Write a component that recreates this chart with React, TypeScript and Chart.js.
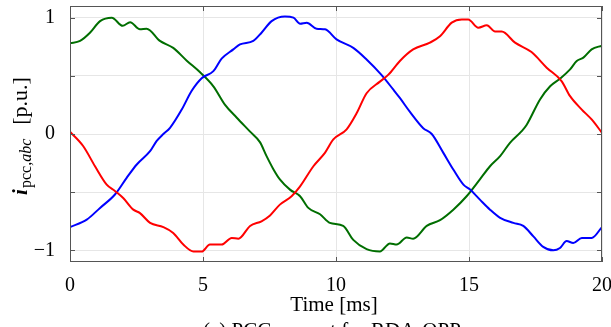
import React, { useEffect, useRef } from 'react';
import { Chart, registerables } from 'chart.js';

Chart.register(...registerables);

// Time axis in ms, currents in p.u.
const redT = [0, 0.5, 0.94, 1.38, 1.69, 2.0, 2.38, 2.63, 3.01, 3.51, 3.88, 4.26, 4.64, 4.95, 5.26, 5.7, 6.08, 6.33, 6.77, 7.2, 7.52, 7.89, 8.33, 8.65, 9.15, 9.59, 9.9, 10.4, 10.78, 11.15, 11.65, 11.97, 12.41, 12.9, 13.53, 13.91, 14.35, 14.73, 14.97, 15.35, 15.67, 15.98, 16.23, 16.73, 17.35, 17.92, 18.48, 18.8, 19.24, 19.61, 20];
const redV = [0.02, -0.105, -0.277, -0.435, -0.49, -0.55, -0.65, -0.68, -0.764, -0.8, -0.85, -0.95, -1.01, -1.01, -0.95, -0.95, -0.893, -0.9, -0.79, -0.75, -0.7, -0.607, -0.535, -0.45, -0.277, -0.16, -0.047, 0.04, 0.18, 0.35, 0.45, 0.51, 0.63, 0.727, 0.785, 0.84, 0.957, 0.985, 0.985, 0.914, 0.934, 0.88, 0.88, 0.785, 0.704, 0.57, 0.455, 0.325, 0.21, 0.125, 0.01];

const blueT = [0, 0.63, 1.13, 1.69, 2.13, 2.51, 3.01, 3.26, 3.51, 3.76, 4.2, 4.57, 4.95, 5.39, 5.7, 6.14, 6.39, 6.89, 7.2, 7.58, 8.08, 8.4, 8.65, 8.9, 9.27, 9.59, 10.02, 10.65, 11.15, 11.7, 12.15, 12.4, 12.78, 13.28, 13.6, 14.03, 14.41, 14.79, 15.04, 15.41, 15.79, 16.17, 16.67, 17.04, 17.42, 17.79, 18.17, 18.42, 18.67, 18.92, 19.24, 19.61, 20];
const blueV = [-0.8, -0.736, -0.635, -0.52, -0.377, -0.262, -0.148, -0.06, 0.0, 0.053, 0.21, 0.37, 0.48, 0.54, 0.647, 0.727, 0.77, 0.8, 0.87, 0.97, 1.01, 1.0, 0.948, 0.957, 0.905, 0.9, 0.813, 0.74, 0.64, 0.51, 0.383, 0.31, 0.19, 0.05, 0.0, -0.16, -0.305, -0.435, -0.478, -0.564, -0.65, -0.72, -0.764, -0.79, -0.88, -0.97, -1.0, -0.98, -0.92, -0.936, -0.893, -0.893, -0.8];

const greenT = [0, 0.38, 0.75, 1.13, 1.57, 1.98, 2.26, 2.63, 2.88, 3.38, 3.88, 4.39, 4.89, 5.39, 5.83, 6.27, 6.77, 7.14, 7.39, 7.64, 7.89, 8.27, 8.65, 8.96, 9.4, 9.77, 10.27, 10.65, 11.15, 11.65, 12.03, 12.28, 12.66, 12.9, 13.41, 13.91, 14.41, 14.91, 15.41, 15.79, 16.17, 16.54, 16.98, 17.17, 17.67, 18.05, 18.42, 18.8, 19.05, 19.3, 19.61, 20];
const greenV = [0.78, 0.8, 0.87, 0.97, 1.0, 0.93, 0.96, 0.9, 0.905, 0.8, 0.74, 0.63, 0.53, 0.41, 0.25, 0.14, 0.02, -0.07, -0.19, -0.3, -0.39, -0.478, -0.535, -0.635, -0.69, -0.764, -0.79, -0.91, -0.99, -1.01, -0.94, -0.95, -0.89, -0.9, -0.79, -0.74, -0.65, -0.535, -0.39, -0.277, -0.19, -0.076, 0.024, 0.08, 0.297, 0.41, 0.475, 0.555, 0.627, 0.656, 0.727, 0.76];

const xTicks = [0, 5, 10, 15, 20];
const yTicks = [-1, -0.5, 0, 0.5, 1];
const xTitle = 'Time [ms]';
const caption = '(a) PCC current for RDA-OPPs';

const FONT = "'Liberation Serif', 'Times New Roman', serif";
const AXIS = '#555555';

const pts = (t: number[], v: number[]) => t.map((x, i) => ({ x, y: v[i] }));
const fmt = (v: number) => (v < 0 ? '\u2212' + Math.abs(v) : String(v));

export default function App() {
  const ref = useRef<HTMLCanvasElement>(null);

  useEffect(() => {
    const frame = {
      id: 'frame',
      afterDatasetsDraw(chart: any) {
        const { ctx, chartArea: a, scales } = chart;
        ctx.save();
        ctx.strokeStyle = AXIS;
        ctx.lineWidth = 1;
        ctx.strokeRect(a.left + 0.5, a.top + 0.5, a.right - a.left - 1, a.bottom - a.top - 1);
        ctx.beginPath();
        for (const v of yTicks) {
          const y = Math.round(scales.y.getPixelForValue(v)) + 0.5;
          ctx.moveTo(a.left, y); ctx.lineTo(a.left + 5, y);
          ctx.moveTo(a.right, y); ctx.lineTo(a.right - 5, y);
        }
        for (const v of xTicks) {
          const x = Math.round(scales.x.getPixelForValue(v)) + 0.5;
          ctx.moveTo(x, a.bottom); ctx.lineTo(x, a.bottom - 5);
          ctx.moveTo(x, a.top); ctx.lineTo(x, a.top + 5);
        }
        ctx.stroke();
        ctx.restore();
      },
      afterDraw(chart: any) {
        const { ctx, chartArea: a } = chart;
        const cx = (a.left + a.right) / 2;
        ctx.save();
        ctx.fillStyle = '#000';
        ctx.textAlign = 'center';
        ctx.textBaseline = 'alphabetic';
        ctx.font = `21px ${FONT}`;
        ctx.fillText(xTitle, cx - 2, 311);
        ctx.fillText(caption, cx, 337);

        // y-axis label (rotated, mixed fonts)
        const parts = [
          { text: 'i', font: `italic bold 21px ${FONT}`, dy: 0, gap: 1 },
          { text: 'pcc,', font: `16px ${FONT}`, dy: 4, gap: 0 },
          { text: 'abc', font: `italic 16px ${FONT}`, dy: 4, gap: 14 },
          { text: '[p.u.]', font: `22px ${FONT}`, dy: 0, gap: 0 },
        ];
        let total = 0;
        const widths = parts.map((p) => {
          ctx.font = p.font;
          const w = ctx.measureText(p.text).width;
          total += w + p.gap;
          return w;
        });
        ctx.translate(27, 136);
        ctx.rotate(-Math.PI / 2);
        ctx.textAlign = 'left';
        let x = -total / 2;
        parts.forEach((p, i) => {
          ctx.font = p.font;
          ctx.fillText(p.text, x, p.dy);
          x += widths[i] + p.gap;
        });
        ctx.restore();
      },
    };

    const chart = new Chart(ref.current as HTMLCanvasElement, {
      type: 'line',
      data: {
        datasets: [
          { label: 'a', data: pts(redT, redV), borderColor: '#ff0000' },
          { label: 'b', data: pts(blueT, blueV), borderColor: '#0000ff' },
          { label: 'c', data: pts(greenT, greenV), borderColor: '#006e00' },
        ],
      },
      options: {
        animation: false,
        responsive: false,
        devicePixelRatio: 1,
        layout: { padding: { top: 6, right: 9, left: 0, bottom: 0 } },
        plugins: { legend: { display: false }, tooltip: { enabled: false } },
        elements: {
          point: { radius: 0 },
          line: { borderWidth: 2, cubicInterpolationMode: 'monotone', fill: false, borderJoinStyle: 'round' },
        },
        scales: {
          x: {
            type: 'linear',
            min: 0,
            max: 20,
            afterFit: (s: any) => { s.height = 65; s.paddingLeft = 0; s.paddingRight = 0; },
            afterBuildTicks: (s: any) => { s.ticks = xTicks.map((v) => ({ value: v })); },
            ticks: { padding: 12, color: '#000', font: { family: FONT, size: 20 }, maxRotation: 0, callback: (v: any) => String(v) },
            grid: { color: '#e6e6e6', drawTicks: false },
            border: { display: false },
          },
          y: {
            type: 'linear',
            min: -1.1,
            max: 1.1,
            afterFit: (s: any) => { s.width = 70; s.paddingTop = 0; s.paddingBottom = 0; },
            afterBuildTicks: (s: any) => { s.ticks = yTicks.map((v) => ({ value: v })); },
            ticks: { padding: 15, color: '#000', font: { family: FONT, size: 20 }, callback: (v: any) => (Number.isInteger(v) ? fmt(v) : '') },
            grid: { color: '#e6e6e6', drawTicks: false },
            border: { display: false },
          },
        },
      },
      plugins: [frame],
    } as any);
    return () => chart.destroy();
  }, []);

  return (
    <div style={{ position: 'fixed', left: 0, top: 0, width: 611, height: 327, background: '#fff' }}>
      <canvas ref={ref} width={611} height={327} style={{ width: 611, height: 327, display: 'block' }} />
    </div>
  );
}
